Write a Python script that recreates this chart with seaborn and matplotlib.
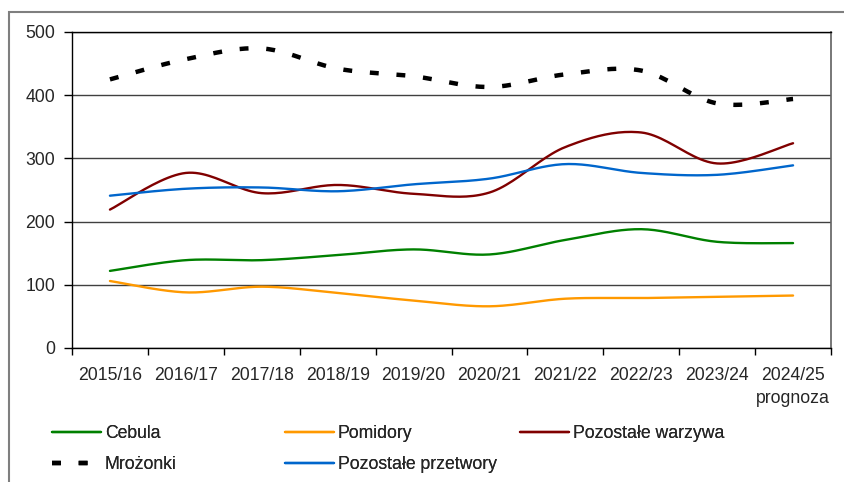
import numpy as np
import pandas as pd
import matplotlib
matplotlib.use("Agg")
import matplotlib.pyplot as plt
import seaborn as sns
from matplotlib.patches import Rectangle

seasons = ["2015/16", "2016/17", "2017/18", "2018/19", "2019/20",
           "2020/21", "2021/22", "2022/23", "2023/24", "2024/25\nprognoza"]

cebula = [122, 139, 139, 147, 156, 148, 171, 188, 168, 166]
pomidory = [106, 88, 97, 87, 75, 66, 78, 79, 81, 83]
pozostale_warzywa = [219, 277, 245, 258, 244, 246, 318, 341, 292, 324]
mrozonki = [425, 457, 474, 442, 430, 413, 433, 439, 387, 394]
pozostale_przetwory = [241, 252, 254, 248, 259, 268, 291, 277, 274, 289]

series = [
    ("Cebula", cebula, "#008000", "-"),
    ("Pomidory", pomidory, "#FF9900", "-"),
    ("Pozostałe warzywa", pozostale_warzywa, "#800000", "-"),
    ("Mrożonki", mrozonki, "#000000", "--"),
    ("Pozostałe przetwory", pozostale_przetwory, "#0066CC", "-"),
]

FS = 12.7


def smooth(y, n=24):
    # Excel-style smoothed line (Bezier through the points)
    x = np.arange(len(y), dtype=float)
    y = np.asarray(y, dtype=float)
    pts = np.column_stack([x, y])
    out = [pts[0]]
    for i in range(len(pts) - 1):
        p0 = pts[max(i - 1, 0)]
        p1 = pts[i]
        p2 = pts[i + 1]
        p3 = pts[min(i + 2, len(pts) - 1)]
        b1 = p1 + (p2 - p0) / 6
        b2 = p2 - (p3 - p1) / 6
        t = np.linspace(0, 1, n)[1:, None]
        seg = ((1 - t) ** 3) * p1 + 3 * ((1 - t) ** 2) * t * b1 \
            + 3 * (1 - t) * t ** 2 * b2 + t ** 3 * p2
        out.extend(seg)
    out = np.array(out)
    return out[:, 0], out[:, 1]


sns.set_style("white")
plt.rcParams["font.family"] = ["Liberation Sans", "DejaVu Sans"]
plt.rcParams["font.size"] = FS

fig = plt.figure(figsize=(8.44, 4.82), dpi=100)
ax = fig.add_axes([72 / 844, 1 - 348 / 482, (831 - 72) / 844, (348 - 32) / 482])

handles = {}
for name, vals, color, ls in series:
    xs, ys = smooth(vals)
    df = pd.DataFrame({"x": xs, "y": ys})
    if ls == "--":
        sns.lineplot(data=df, x="x", y="y", ax=ax, color=color, sort=False,
                     linewidth=3.2, label=name)
        line = ax.lines[-1]
        line.set_linestyle((0, (2.0, 4.0)))
        line.set_dash_capstyle("butt")
    else:
        sns.lineplot(data=df, x="x", y="y", ax=ax, color=color, sort=False,
                     linewidth=1.7, label=name)
    handles[name] = ax.lines[-1]

ax.get_legend().remove()

ax.set_xlim(-0.5, len(seasons) - 0.5)
ax.set_ylim(0, 500)
ax.set_yticks([0, 100, 200, 300, 400, 500])
ax.set_xticks(np.arange(-0.5, len(seasons), 1.0))
ax.set_xticklabels([])
ax.set_xticks(np.arange(len(seasons)), minor=True)
ax.set_xticklabels(seasons, minor=True, linespacing=1.45)
ax.tick_params(axis="x", which="minor", length=0, pad=14, labelsize=FS)
ax.tick_params(axis="x", which="major", length=5, width=1, direction="out",
               color="black", bottom=True)
ax.tick_params(axis="y", length=6, width=1, direction="out", color="black",
               pad=6, labelsize=FS, left=True)
ax.set_xlabel("")
ax.set_ylabel("")

ax.grid(axis="y", color="#404040", linewidth=1)
ax.set_axisbelow(True)
for side in ["left", "bottom", "top"]:
    ax.spines[side].set_color("black")
    ax.spines[side].set_linewidth(1)
ax.spines["right"].set_color("#606060")
ax.spines["right"].set_linewidth(1.2)

# outer frame of the chart area
fig.add_artist(Rectangle((9 / 844, -0.02), 1.0, 1 - 12 / 482 + 0.02,
                         transform=fig.transFigure, fill=False,
                         edgecolor="#7f7f7f", linewidth=1.5))

legend_cols = [
    (52, ["Cebula", "Mrożonki"]),
    (285, ["Pomidory", "Pozostałe przetwory"]),
    (520, ["Pozostałe warzywa"]),
]
for xpx, names in legend_cols:
    leg = fig.legend([handles[n] for n in names], names,
                     loc="upper left", bbox_to_anchor=(xpx / 844, 1 - 425 / 482),
                     frameon=False, borderpad=0, borderaxespad=0,
                     handlelength=2.75, handletextpad=0.25, labelspacing=0.8,
                     fontsize=FS)
    fig.add_artist(leg)

fig.savefig("out.png", dpi=100)
